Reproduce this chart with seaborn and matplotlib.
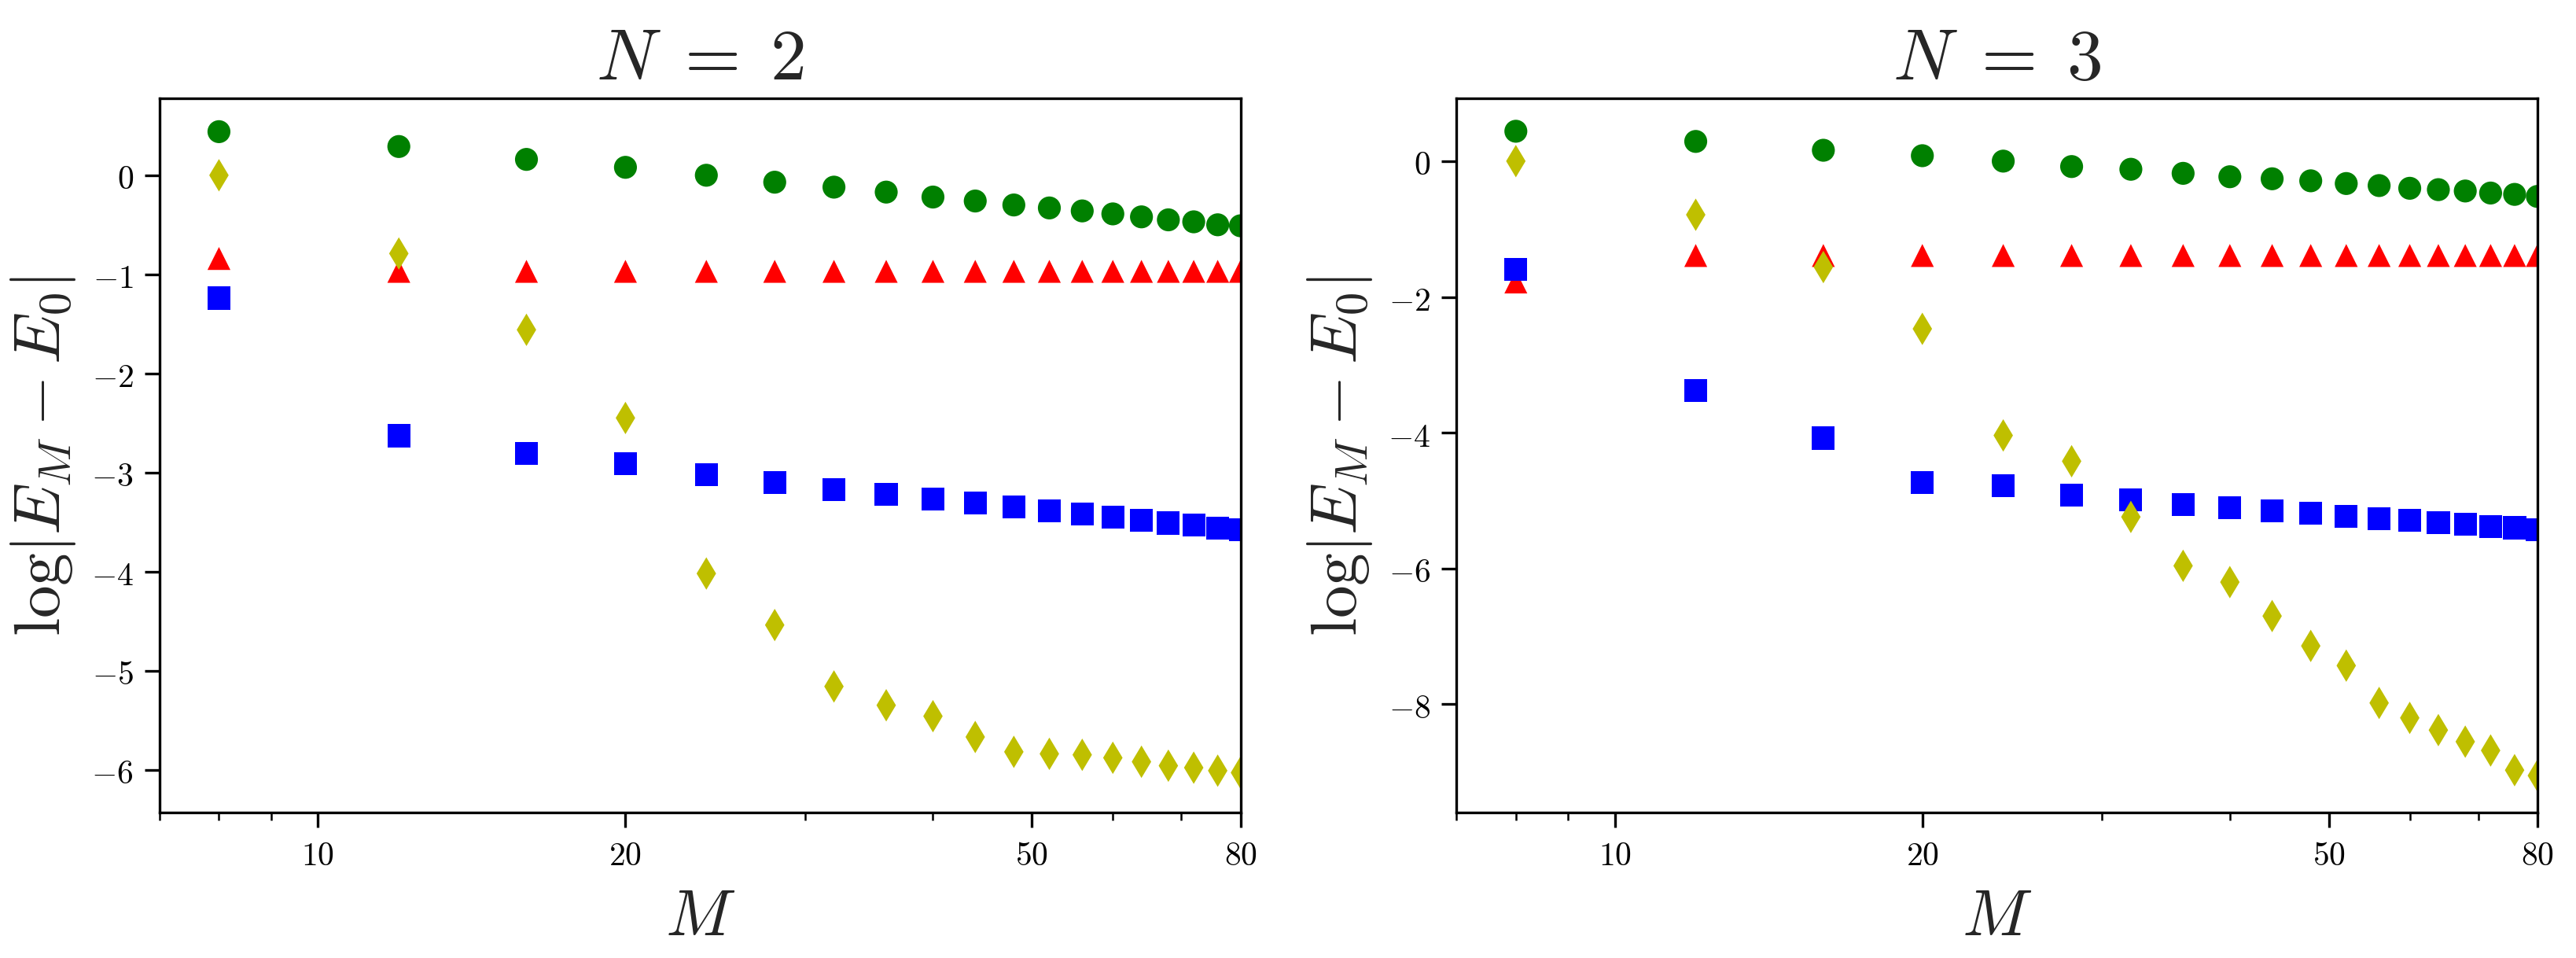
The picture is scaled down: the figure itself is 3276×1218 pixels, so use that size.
import matplotlib
matplotlib.use("Agg")
import matplotlib.pyplot as plt
import seaborn as sns
import pandas as pd
from matplotlib.ticker import FixedLocator, FixedFormatter, NullFormatter, FuncFormatter

# x values (M) shared by both panels
M = [8, 12, 16, 20, 24, 28, 32, 36, 40, 44, 48, 52, 56, 60, 64, 68, 72, 76, 80]

# N = 2 panel
n2_circle = [0.44, 0.29, 0.16, 0.08, 0.00, -0.07, -0.12, -0.17, -0.22, -0.26,
             -0.30, -0.33, -0.36, -0.39, -0.42, -0.45, -0.47, -0.50, -0.51]
n2_triangle = [-0.84, -0.97, -0.97, -0.97, -0.97, -0.97, -0.97, -0.97, -0.97, -0.97,
               -0.97, -0.97, -0.97, -0.97, -0.97, -0.97, -0.97, -0.97, -0.97]
n2_square = [-1.24, -2.63, -2.81, -2.91, -3.02, -3.10, -3.17, -3.22, -3.27, -3.31,
             -3.35, -3.39, -3.42, -3.45, -3.48, -3.51, -3.53, -3.56, -3.58]
n2_diamond = [0.00, -0.79, -1.56, -2.45, -4.02, -4.54, -5.16, -5.35, -5.46, -5.67,
              -5.82, -5.84, -5.85, -5.88, -5.92, -5.96, -5.98, -6.01, -6.03]

# N = 3 panel
n3_circle = [0.44, 0.29, 0.16, 0.08, 0.00, -0.08, -0.12, -0.18, -0.23, -0.26,
             -0.29, -0.33, -0.36, -0.40, -0.42, -0.44, -0.47, -0.49, -0.52]
n3_triangle = [-1.78, -1.39, -1.39, -1.39, -1.39, -1.39, -1.39, -1.39, -1.39, -1.39,
               -1.39, -1.39, -1.39, -1.39, -1.39, -1.39, -1.39, -1.39, -1.39]
n3_square = [-1.59, -3.38, -4.08, -4.73, -4.78, -4.92, -4.99, -5.06, -5.10, -5.15,
             -5.19, -5.23, -5.27, -5.29, -5.32, -5.35, -5.38, -5.40, -5.43]
n3_diamond = [0.00, -0.79, -1.56, -2.47, -4.04, -4.42, -5.24, -5.96, -6.20, -6.70,
              -7.14, -7.43, -7.98, -8.20, -8.38, -8.55, -8.68, -8.97, -9.05]

titles = [r"$N\;=\;2$", r"$N\;=\;3$"]
x_ticks = [10, 20, 50, 80]
x_ticklabels = ["$10$", "$20$", "$50$", "$80$"]

series_names = ["circle", "triangle", "square", "diamond"]
# plain matplotlib colours (seaborn remaps the one-letter codes)
palette = {"circle": "#008000", "triangle": "#ff0000",
           "square": "#0000ff", "diamond": "#bfbf00"}
markers = {"circle": "o", "triangle": "^", "square": "s", "diamond": "d"}

sns.set_theme(style="ticks")
plt.rcParams["mathtext.fontset"] = "cm"
plt.rcParams["font.family"] = ["DejaVu Serif"]
plt.rcParams["axes.edgecolor"] = "black"
plt.rcParams["xtick.color"] = "black"
plt.rcParams["ytick.color"] = "black"


def make_frame(circle, triangle, square, diamond):
    # long table, drawing order green, red, blue, yellow
    vals = circle + triangle + square + diamond
    names = []
    for s in series_names:
        names += [s] * len(M)
    return pd.DataFrame({"M": M * 4, "val": vals, "series": names})


panels = [
    (make_frame(n2_circle, n2_triangle, n2_square, n2_diamond), (-6.43, 0.78)),
    (make_frame(n3_circle, n3_triangle, n3_square, n3_diamond), (-9.59, 0.93)),
]

fig, axes = plt.subplots(1, 2, figsize=(10.92, 4.0633))
fig.subplots_adjust(left=0.062, right=0.985, bottom=0.152, top=0.897, wspace=0.2)

for ax, (df, ylim), title in zip(axes, panels, titles):
    sns.scatterplot(data=df, x="M", y="val", hue="series", style="series",
                    palette=palette, markers=markers, s=49, linewidth=0,
                    legend=False, ax=ax)
    ax.set_xscale("log")
    ax.set_xlim(7, 80)
    ax.set_ylim(*ylim)
    ax.xaxis.set_major_locator(FixedLocator(x_ticks))
    ax.xaxis.set_major_formatter(FixedFormatter(x_ticklabels))
    ax.xaxis.set_minor_formatter(NullFormatter())
    ax.yaxis.set_major_formatter(FuncFormatter(lambda v, p: f"${v:g}$"))
    ax.tick_params(which="major", length=4.5, width=0.8, labelsize=10)
    ax.tick_params(which="minor", length=2.5, width=0.6)
    for sp in ax.spines.values():
        sp.set_linewidth(0.8)
    ax.set_xlabel("$M$", fontsize=20)
    ax.set_ylabel(r"$\log|E_M-E_0|$", fontsize=20)
    ax.set_title(title, fontsize=22)

fig.savefig("out.png", dpi=300)
